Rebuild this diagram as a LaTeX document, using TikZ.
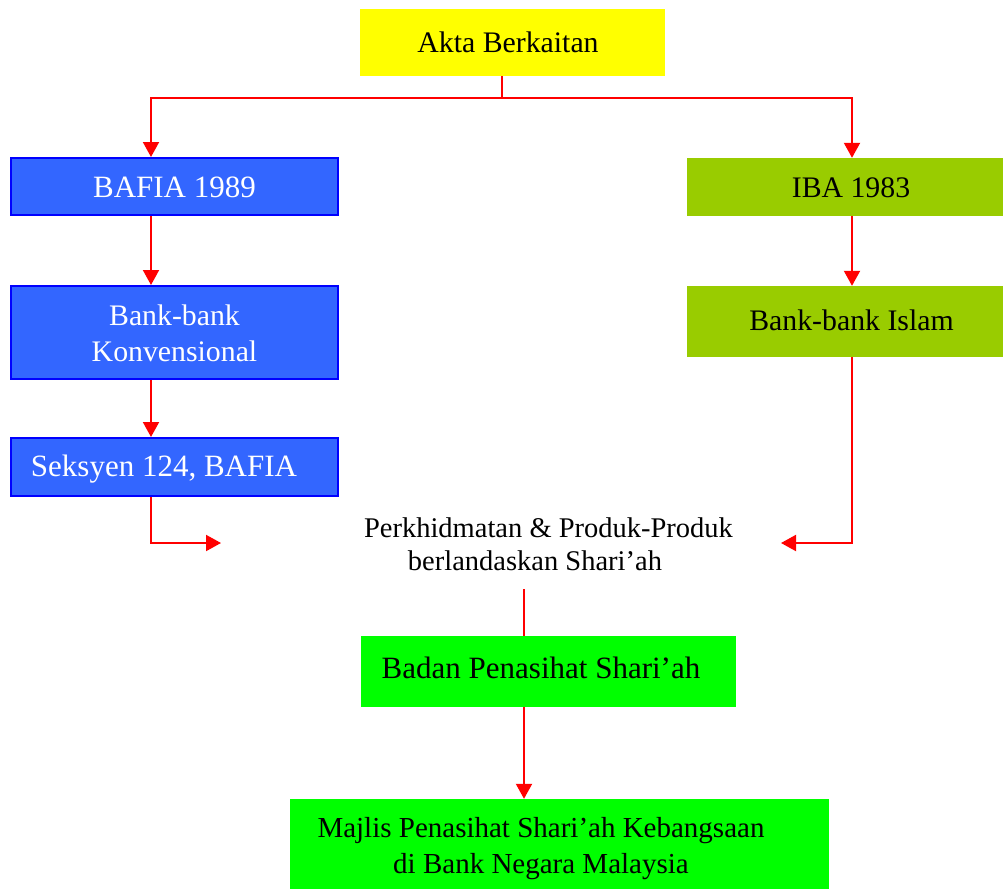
\documentclass[tikz,border=0pt]{standalone}
\usepackage{fontspec}
\setmainfont{Liberation Serif}
\usetikzlibrary{arrows.meta}
\definecolor{yellowfill}{HTML}{FFFF00}
\definecolor{bluefill}{HTML}{3366FF}
\definecolor{blueline}{HTML}{0000FF}
\definecolor{olive}{HTML}{99CC00}
\definecolor{brightgreen}{HTML}{00FF00}
\definecolor{arrowred}{HTML}{FF0000}
\begin{document}
\begin{tikzpicture}[x=1pt,y=-1pt,
  txt/.style={font=\fontsize{29.8}{36}\selectfont, inner sep=0pt, align=center},
  conn/.style={draw=arrowred, line width=2pt},
  arr/.style={conn, -{Triangle[length=15pt,width=16pt]}}]
\useasboundingbox (0,0) rectangle (1003,888);
% boxes
\node[rectangle, fill=yellowfill, minimum width=305pt, minimum height=67pt, inner sep=0pt] (akta) at (512.5,42.5) {};
\node[txt] (aktaT) at (508,42) {Akta Berkaitan};
\node[rectangle, fill=bluefill, draw=blueline, line width=2pt, minimum width=327pt, minimum height=57pt, inner sep=0pt] (bafia) at (174.5,186.5) {};
\node[txt, text=white, font=\fontsize{31}{36}\selectfont] (bafiaT) at (174.5,187) {BAFIA 1989};
\node[rectangle, fill=bluefill, draw=blueline, line width=2pt, minimum width=327pt, minimum height=93pt, inner sep=0pt] (konv) at (174.5,332.5) {};
\node[txt, text=white] (konvT) at (174.5,333) {Bank-bank\\Konvensional};
\node[rectangle, fill=bluefill, draw=blueline, line width=2pt, minimum width=327pt, minimum height=58pt, inner sep=0pt] (seks) at (174.5,467) {};
\node[txt, text=white, font=\fontsize{31}{36}\selectfont] (seksT) at (164,469) {Seksyen 124, BAFIA};
\node[rectangle, fill=olive, minimum width=316pt, minimum height=58pt, inner sep=0pt] (iba) at (845,187) {};
\node[txt] (ibaT) at (851,188) {IBA 1983};
\node[rectangle, fill=olive, minimum width=316pt, minimum height=71pt, inner sep=0pt] (islam) at (845,321.5) {};
\node[txt] (islamT) at (851.5,320) {Bank-bank Islam};
\node[txt, font=\fontsize{28.5}{33}\selectfont] (perk) at (548.5,544) {Perkhidmatan \& Produk-Produk\\berlandaskan Shari’ah\hspace*{27pt}};
\node[rectangle, fill=brightgreen, minimum width=375pt, minimum height=71pt, inner sep=0pt] (badan) at (548.5,671.5) {};
\node[txt, font=\fontsize{31}{36}\selectfont] (badanT) at (541,668) {Badan Penasihat Shari’ah};
\node[rectangle, fill=brightgreen, minimum width=539pt, minimum height=92pt, inner sep=0pt] (majlis) at (559.5,845) {};
\node[txt, font=\fontsize{29}{36}\selectfont] (majlisT) at (541,849) {Majlis Penasihat Shari’ah Kebangsaan\\di Bank Negara Malaysia};
% guide coordinates
\coordinate (cL) at (151,0);
\coordinate (cR) at (852,0);
\coordinate (cM) at (524,0);
\coordinate (split) at (502,98);
\coordinate (leftTip) at (221,543);
\coordinate (rightTip) at (781,543);
\coordinate (perkBot) at (524,589);
% connectors
\draw[conn] (akta.south -| split) -- (split);
\draw[arr] (split) -| (bafia.north -| cL);
\draw[arr] (split) -| (iba.north -| cR);
\draw[arr] (bafia.south -| cL) -- (konv.north -| cL);
\draw[arr] (konv.south -| cL) -- (seks.north -| cL);
\draw[arr] (seks.south -| cL) |- (leftTip);
\draw[arr] (iba.south -| cR) -- (islam.north -| cR);
\draw[arr] (islam.south -| cR) |- (rightTip);
\draw[conn] (perkBot) -- (badan.north -| cM);
\draw[arr] (badan.south -| cM) -- (majlis.north -| cM);
\end{tikzpicture}
\end{document}
